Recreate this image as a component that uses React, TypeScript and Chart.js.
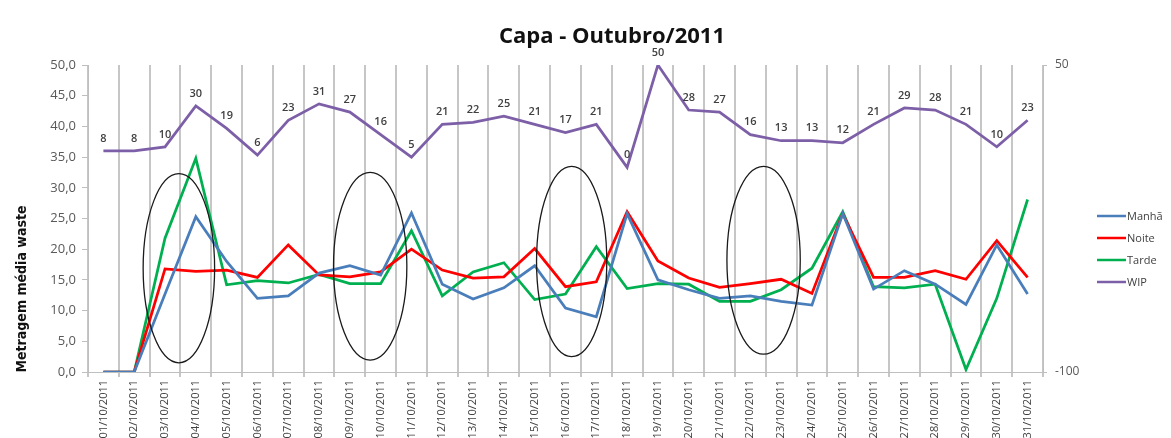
import React, { useEffect, useRef } from 'react';
import { Chart, registerables } from 'chart.js';

Chart.register(...registerables);

const categories = [
  '01/10/2011', '02/10/2011', '03/10/2011', '04/10/2011', '05/10/2011', '06/10/2011', '07/10/2011', '08/10/2011',
  '09/10/2011', '10/10/2011', '11/10/2011', '12/10/2011', '13/10/2011', '14/10/2011', '15/10/2011', '16/10/2011',
  '17/10/2011', '18/10/2011', '19/10/2011', '20/10/2011', '21/10/2011', '22/10/2011', '23/10/2011', '24/10/2011',
  '25/10/2011', '26/10/2011', '27/10/2011', '28/10/2011', '29/10/2011', '30/10/2011', '31/10/2011',
];

const manha = [0, 0, 12.7, 25.3, 18.0, 12.0, 12.4, 16.1, 17.3, 15.8, 25.9, 14.3, 11.9, 13.7, 17.3, 10.4,
  9.0, 25.8, 15.0, 13.4, 12.0, 12.4, 11.5, 10.9, 25.8, 13.5, 16.5, 14.3, 11.0, 20.7, 12.7];
const noite = [0, 0, 16.8, 16.4, 16.6, 15.4, 20.7, 15.8, 15.5, 16.3, 20.0, 16.6, 15.3, 15.5, 20.1, 13.9,
  14.7, 26.1, 18.1, 15.3, 13.8, 14.4, 15.1, 12.8, 25.8, 15.4, 15.4, 16.5, 15.1, 21.4, 15.4];
const tarde = [0, 0, 21.8, 34.8, 14.2, 14.9, 14.5, 15.9, 14.4, 14.4, 23.0, 12.4, 16.3, 17.8, 11.8, 12.7,
  20.4, 13.6, 14.4, 14.3, 11.5, 11.5, 13.4, 16.9, 26.1, 13.9, 13.7, 14.3, 0.4, 12.0, 28.1];
const wip = [8, 8, 10, 30, 19, 6, 23, 31, 27, 16, 5, 21, 22, 25, 21, 17, 21, 0, 50, 28, 27, 16, 13, 13, 12,
  21, 29, 28, 21, 10, 23];

const seriesNames = ['Manhã', 'Noite', 'Tarde', 'WIP'];
const titleText = 'Capa - Outubro/2011';
const leftAxisTitle = 'Metragem média waste';

// highlight ovals in data coordinates: category index centre, half width (categories), top / bottom value (left axis)
const ovalCenters = [2.45, 8.66, 15.2, 21.43];
const ovalHalfWidths = [1.16, 1.19, 1.14, 1.19];
const ovalTops = [32.3, 32.5, 33.5, 33.5];
const ovalBottoms = [1.5, 1.95, 2.5, 2.9];

const W = 1171;
const H = 470;

export default function App() {
  const ref = useRef<HTMLCanvasElement | null>(null);

  useEffect(() => {
    const canvas = ref.current;
    if (!canvas) return;

    const extras = {
      id: 'extras',
      afterDatasetsDraw(chart: any) {
        const ctx = chart.ctx;
        const xs = chart.scales.x;
        const ys = chart.scales.y;
        // ovals
        ctx.save();
        ctx.strokeStyle = '#1a1a1a';
        ctx.lineWidth = 1.3;
        for (let i = 0; i < ovalCenters.length; i++) {
          const cx = xs.getPixelForValue(ovalCenters[i]);
          const rx = Math.abs(xs.getPixelForValue(ovalCenters[i] + ovalHalfWidths[i]) - cx);
          const yt = ys.getPixelForValue(ovalTops[i]);
          const yb = ys.getPixelForValue(ovalBottoms[i]);
          ctx.beginPath();
          ctx.ellipse(cx, (yt + yb) / 2, rx, (yb - yt) / 2, 0, 0, Math.PI * 2);
          ctx.stroke();
        }
        ctx.restore();

        // WIP data labels
        const meta = chart.getDatasetMeta(3);
        ctx.save();
        ctx.font = '600 11px "Open Sans", sans-serif';
        ctx.fillStyle = '#404040';
        ctx.textAlign = 'center';
        ctx.textBaseline = 'bottom';
        meta.data.forEach((pt: any, i: number) => {
          ctx.fillText(String(wip[i]), pt.x, pt.y - 7);
        });
        ctx.restore();
      },
      afterDraw(chart: any) {
        const ctx = chart.ctx;
        // title
        ctx.save();
        ctx.font = 'bold 22px "Open Sans", sans-serif';
        ctx.fillStyle = '#111111';
        ctx.textAlign = 'center';
        ctx.textBaseline = 'middle';
        ctx.fillText(titleText, 612, 37);
        ctx.restore();

        // left axis title
        ctx.save();
        ctx.translate(22, 289);
        ctx.rotate(-Math.PI / 2);
        ctx.font = 'bold 14px "Liberation Sans Narrow", "DejaVu Sans Condensed", sans-serif';
        ctx.fillStyle = '#111111';
        ctx.textAlign = 'center';
        ctx.textBaseline = 'middle';
        ctx.fillText(leftAxisTitle, 0, 0);
        ctx.restore();

        // legend
        ctx.save();
        ctx.font = '11px "Open Sans", sans-serif';
        ctx.textBaseline = 'middle';
        ctx.textAlign = 'left';
        chart.data.datasets.forEach((ds: any, i: number) => {
          const y = 216 + i * 22;
          ctx.strokeStyle = ds.borderColor;
          ctx.lineWidth = 2.5;
          ctx.beginPath();
          ctx.moveTo(1097, y);
          ctx.lineTo(1126, y);
          ctx.stroke();
          ctx.fillStyle = '#404040';
          ctx.fillText(ds.label, 1127, y + 1);
        });
        ctx.restore();
      },
    };

    const lineDs = (label: string, data: number[], color: string, axis: string) => ({
      label,
      data,
      borderColor: color,
      backgroundColor: color,
      borderWidth: 2.75,
      pointRadius: 0,
      tension: 0,
      yAxisID: axis,
      fill: false,
    });

    const chart = new Chart(canvas, {
      type: 'line',
      data: {
        labels: categories,
        datasets: [
          lineDs(seriesNames[0], manha, '#4a7ebb', 'y'),
          lineDs(seriesNames[1], noite, '#ff0000', 'y'),
          lineDs(seriesNames[2], tarde, '#00b050', 'y'),
          lineDs(seriesNames[3], wip, '#7d5fa8', 'y1'),
        ],
      },
      options: {
        responsive: false,
        animation: false,
        events: [],
        layout: { padding: { top: 65, left: 0, right: 0, bottom: 0 } },
        plugins: {
          legend: { display: false },
          title: { display: false },
          tooltip: { enabled: false },
        },
        scales: {
          x: {
            type: 'category',
            offset: true,
            grid: {
              offset: true,
              color: '#c6c6c6',
              lineWidth: 2,
              drawTicks: true,
              tickLength: 5,
            },
            border: { color: '#bfbfbf', width: 1 },
            ticks: {
              autoSkip: false,
              minRotation: 90,
              maxRotation: 90,
              padding: 3,
              color: '#404040',
              font: { family: '"Open Sans", sans-serif', size: 11 },
            },
            afterFit(axis: any) {
              axis.height = H - 372;
            },
          },
          y: {
            position: 'left',
            min: 0,
            max: 50,
            ticks: {
              stepSize: 5,
              padding: 6,
              color: '#595959',
              font: { family: '"Open Sans", sans-serif', size: 13 },
              callback: (v: any) => Number(v).toFixed(1).replace('.', ','),
            },
            grid: { drawOnChartArea: false, drawTicks: true, tickLength: 6, color: '#bfbfbf' },
            border: { color: '#bfbfbf', width: 1 },
            afterFit(axis: any) {
              axis.width = 88;
            },
          },
          y1: {
            position: 'right',
            min: -100,
            max: 50,
            ticks: {
              stepSize: 150,
              padding: 8,
              color: '#595959',
              font: { family: '"Open Sans", sans-serif', size: 12 },
            },
            grid: { drawOnChartArea: false, drawTicks: true, tickLength: 4, color: '#bfbfbf' },
            border: { color: '#bfbfbf', width: 1 },
            afterFit(axis: any) {
              axis.width = W - 1043;
            },
          },
        },
      },
      plugins: [extras],
    } as any);

    return () => chart.destroy();
  }, []);

  return (
    <div style={{ position: 'absolute', left: 0, top: 0, width: W, height: H, background: '#ffffff' }}>
      <canvas ref={ref} width={W} height={H} style={{ display: 'block' }} />
    </div>
  );
}
